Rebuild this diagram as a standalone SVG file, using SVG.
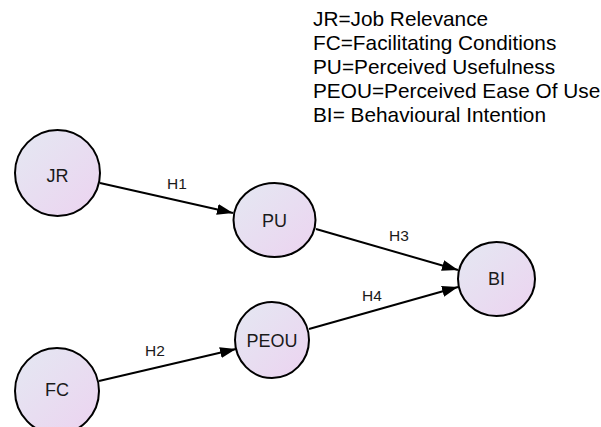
<svg xmlns="http://www.w3.org/2000/svg" width="601" height="427" viewBox="0 0 601 427">
<style>
.node{stroke:#000;stroke-width:2;fill:url(#g)}
.nl{font-family:"Liberation Sans",Arial,sans-serif;font-size:18px;fill:#1a1a1a;text-anchor:middle}
.el{font-family:"Liberation Sans",Arial,sans-serif;font-size:15.5px;fill:#1a1a1a;text-anchor:middle}
.lg{font-family:"Liberation Sans",Arial,sans-serif;font-size:20.8px;fill:#000}
.edge{stroke:#000;stroke-width:2;fill:none;marker-end:url(#arr)}
</style>
<defs>
<linearGradient id="g" x1="0" y1="0" x2="1" y2="1">
<stop offset="0" stop-color="#e4e8f2"/>
<stop offset="1" stop-color="#ecd3f0"/>
</linearGradient>
<marker id="arr" markerUnits="userSpaceOnUse" markerWidth="18" markerHeight="12" refX="16" refY="5.5" orient="auto">
<path d="M0,0 L16,5.5 L0,11 z" fill="#000"/>
</marker>
</defs>
<g id="legend">
<text class="lg" x="313" y="26">JR=Job Relevance</text>
<text class="lg" x="313" y="50">FC=Facilitating Conditions</text>
<text class="lg" x="313" y="74">PU=Perceived Usefulness</text>
<text class="lg" x="313" y="98">PEOU=Perceived Ease Of Use</text>
<text class="lg" x="313" y="122">BI= Behavioural Intention</text>
</g>
<g id="edges">
<line class="edge" x1="100" y1="183" x2="233" y2="213"/>
<line class="edge" x1="316" y1="229" x2="458" y2="270"/>
<line class="edge" x1="309" y1="329" x2="458" y2="287"/>
<line class="edge" x1="99" y1="381" x2="236" y2="349"/>
<text class="el" x="177" y="189">H1</text>
<text class="el" x="399" y="241">H3</text>
<text class="el" x="372" y="301">H4</text>
<text class="el" x="155" y="356">H2</text>
</g>
<g id="JR"><ellipse class="node" cx="57.5" cy="173" rx="42.5" ry="43"/><text class="nl" x="57.5" y="181.5">JR</text></g>
<g id="PU"><ellipse class="node" cx="274.5" cy="220" rx="41" ry="37"/><text class="nl" x="274.5" y="227">PU</text></g>
<g id="BI"><ellipse class="node" cx="496.5" cy="279" rx="38.5" ry="37"/><text class="nl" x="496.5" y="285">BI</text></g>
<g id="PEOU"><ellipse class="node" cx="272" cy="340" rx="37" ry="38"/><text class="nl" x="272" y="347">PEOU</text></g>
<g id="FC"><ellipse class="node" cx="57" cy="391" rx="42" ry="43"/><text class="nl" x="57" y="396">FC</text></g>
</svg>
